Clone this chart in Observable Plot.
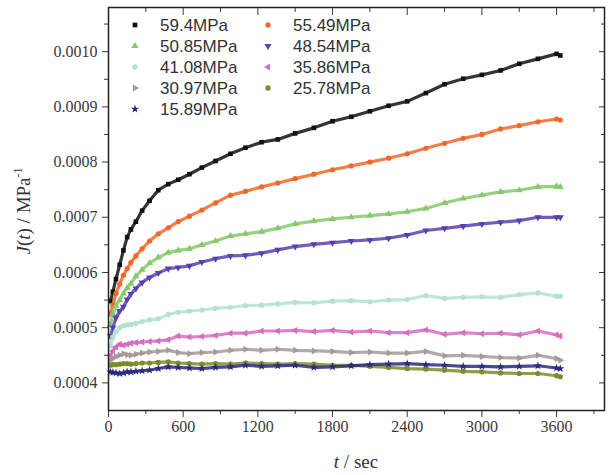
<!DOCTYPE html>
<html>
<head>
<meta charset="utf-8">
<script src="https://cdn.jsdelivr.net/npm/d3@7"></script>
<script src="https://cdn.jsdelivr.net/npm/@observablehq/plot@0.6"></script>
<style>
  body { margin: 0; background: white; }
  #chart { position: relative; width: 610px; height: 475px; }
</style>
</head>
<body>
<div id="chart"></div>
<script>
// time (s)
const times = [15, 35, 60, 90, 120, 150, 180, 220, 270, 330, 400, 480, 560, 650, 750, 860, 980, 1100, 1230, 1360, 1500, 1650, 1800, 1950, 2100, 2250, 2400, 2550, 2700, 2850, 3000, 3150, 3300, 3450, 3600, 3630];

const s59_4 = [0.000548,0.000565,0.000588,0.000614,0.000640,0.000664,0.000678,0.000692,0.000712,0.000730,0.000749,0.000760,0.000768,0.000778,0.000790,0.000802,0.000815,0.000826,0.000836,0.000841,0.000852,0.000862,0.000874,0.000882,0.000892,0.000902,0.000910,0.000925,0.000941,0.000951,0.000958,0.000966,0.000978,0.000987,0.000996,0.000993];
const s55_49 = [0.000525,0.000541,0.000562,0.000579,0.000595,0.000607,0.000618,0.000630,0.000643,0.000657,0.000670,0.000681,0.000692,0.000702,0.000713,0.000726,0.000740,0.000747,0.000755,0.000762,0.000770,0.000778,0.000786,0.000793,0.000800,0.000807,0.000815,0.000825,0.000834,0.000843,0.000850,0.000860,0.000866,0.000873,0.000878,0.000876];
const s50_85 = [0.000505,0.000525,0.000540,0.000550,0.000562,0.000572,0.000580,0.000593,0.000605,0.000617,0.000627,0.000636,0.000640,0.000643,0.000650,0.000657,0.000666,0.000670,0.000674,0.000680,0.000688,0.000693,0.000697,0.000700,0.000703,0.000706,0.000710,0.000716,0.000726,0.000734,0.000740,0.000746,0.000749,0.000755,0.000756,0.000755];
const s48_54 = [0.000485,0.000500,0.000518,0.000530,0.000538,0.000551,0.000561,0.000571,0.000582,0.000591,0.000599,0.000607,0.000609,0.000612,0.000619,0.000625,0.000630,0.000631,0.000635,0.000641,0.000647,0.000651,0.000654,0.000657,0.000659,0.000662,0.000668,0.000676,0.000680,0.000684,0.000688,0.000691,0.000694,0.000700,0.000700,0.000700];
const s41_08 = [0.000467,0.000483,0.000493,0.000500,0.000504,0.000505,0.000506,0.000508,0.000511,0.000514,0.000516,0.000524,0.000528,0.000530,0.000532,0.000535,0.000537,0.000540,0.000541,0.000543,0.000546,0.000545,0.000548,0.000549,0.000547,0.000550,0.000551,0.000558,0.000553,0.000555,0.000556,0.000555,0.000560,0.000563,0.000557,0.000557];
const s35_86 = [0.000450,0.000458,0.000465,0.000470,0.000468,0.000470,0.000472,0.000473,0.000474,0.000475,0.000476,0.000478,0.000485,0.000483,0.000484,0.000486,0.000490,0.000490,0.000494,0.000494,0.000495,0.000493,0.000495,0.000492,0.000494,0.000491,0.000491,0.000496,0.000488,0.000491,0.000489,0.000490,0.000487,0.000494,0.000487,0.000485];
const s30_97 = [0.000441,0.000445,0.000448,0.000450,0.000453,0.000451,0.000450,0.000452,0.000454,0.000456,0.000457,0.000459,0.000455,0.000453,0.000455,0.000456,0.000459,0.000461,0.000459,0.000461,0.000459,0.000458,0.000457,0.000455,0.000456,0.000454,0.000454,0.000457,0.000449,0.000450,0.000448,0.000446,0.000445,0.000450,0.000444,0.000441];
const s25_78 = [0.000432,0.000433,0.000433,0.000434,0.000435,0.000435,0.000434,0.000435,0.000436,0.000436,0.000437,0.000438,0.000436,0.000435,0.000434,0.000435,0.000434,0.000436,0.000435,0.000434,0.000435,0.000434,0.000432,0.000432,0.000430,0.000428,0.000426,0.000425,0.000423,0.000421,0.000420,0.000418,0.000417,0.000417,0.000413,0.000411];
const s15_89 = [0.000420,0.000419,0.000418,0.000417,0.000418,0.000420,0.000420,0.000421,0.000422,0.000423,0.000426,0.000429,0.000428,0.000427,0.000426,0.000428,0.000429,0.000432,0.000430,0.000431,0.000432,0.000428,0.000429,0.000431,0.000433,0.000434,0.000435,0.000433,0.000432,0.000430,0.000430,0.000429,0.000430,0.000431,0.000427,0.000426];

const seriesNames = ["59.4MPa", "55.49MPa", "50.85MPa", "48.54MPa", "41.08MPa", "35.86MPa", "30.97MPa", "25.78MPa", "15.89MPa"];
const seriesValues = [s59_4, s55_49, s50_85, s48_54, s41_08, s35_86, s30_97, s25_78, s15_89];
const seriesColors = ["#111111", "#f0692a", "#86c96b", "#5b3fae", "#b3e2d2", "#d56dc4", "#a69a99", "#7c8c2c", "#2b2a7c"];

const xMajorTicks = [0, 600, 1200, 1800, 2400, 3000, 3600];
const xMinorTicks = [300, 900, 1500, 2100, 2700, 3300, 3900];
const yMajorTicks = [0.0004, 0.0005, 0.0006, 0.0007, 0.0008, 0.0009, 0.0010];
const yMinorTicks = [0.00045, 0.00055, 0.00065, 0.00075, 0.00085, 0.00095, 0.00105];

const serifFont = "'Liberation Serif', 'Times New Roman', Times, serif";
const sansFont = "'Liberation Sans', Arial, Helvetica, sans-serif";

// custom rotated triangle symbol
function triangleRot(deg) {
  return {
    draw(ctx, size) {
      const y = -Math.sqrt(size / (Math.sqrt(3) * 3));
      const pts = [[0, 2 * y], [-Math.sqrt(3) * y, -y], [Math.sqrt(3) * y, -y]];
      const a = deg * Math.PI / 180, c = Math.cos(a), s = Math.sin(a);
      pts.forEach(([px, py], i) => {
        const rx = px * c - py * s, ry = px * s + py * c;
        if (i) ctx.lineTo(rx, ry); else ctx.moveTo(rx, ry);
      });
      ctx.closePath();
    }
  };
}
const seriesSymbols = [d3.symbolSquare, d3.symbolCircle, triangleRot(0), triangleRot(180), d3.symbolCircle, triangleRot(-90), triangleRot(90), d3.symbolCircle, d3.symbolStar];

const marks = [];
seriesValues.forEach((vals, k) => {
  const data = times.map((t, i) => ({t, v: vals[i]}));
  marks.push(Plot.line(data, {x: "t", y: "v", stroke: seriesColors[k], strokeWidth: 3.2, strokeOpacity: 0.85}));
  marks.push(Plot.dot(data, {x: "t", y: "v", fill: seriesColors[k], symbol: seriesSymbols[k], r: 2.6, stroke: "none"}));
});

marks.push(
  Plot.axisX({ticks: xMajorTicks, anchor: "bottom", tickSize: 7, tickPadding: 3, tickFormat: d => String(d), label: null}),
  Plot.axisX({ticks: xMinorTicks, anchor: "bottom", tickSize: 4, tickFormat: () => "", label: null}),
  Plot.axisX({ticks: xMajorTicks, anchor: "top", tickSize: 7, dy: 7, tickFormat: () => "", label: null}),
  Plot.axisX({ticks: xMinorTicks, anchor: "top", tickSize: 4, dy: 4, tickFormat: () => "", label: null}),
  Plot.axisY({ticks: yMajorTicks, anchor: "left", tickSize: 6, tickPadding: 5, tickFormat: d3.format(".4f"), label: null}),
  Plot.axisY({ticks: yMinorTicks, anchor: "left", tickSize: 4, tickFormat: () => "", label: null}),
  Plot.axisY({ticks: yMajorTicks, anchor: "right", tickSize: 6, dx: -6, tickFormat: () => "", label: null}),
  Plot.axisY({ticks: yMinorTicks, anchor: "right", tickSize: 4, dx: -4, tickFormat: () => "", label: null}),
  Plot.frame({stroke: "#222", strokeWidth: 1.5})
);

const chart = Plot.plot({
  width: 610,
  height: 475,
  marginLeft: 108,
  marginRight: 6,
  marginTop: 7,
  marginBottom: 65,
  style: {fontFamily: serifFont, fontSize: "16px", color: "#3a3a3a", background: "white", overflow: "visible"},
  x: {domain: [0, 3985], axis: null},
  y: {domain: [0.00035, 0.00108], axis: null},
  marks
});
document.getElementById("chart").appendChild(chart);

const svg = d3.select(chart);

// axis titles
const yl = svg.append("text")
  .attr("transform", "translate(30,211) rotate(-90)")
  .attr("text-anchor", "middle")
  .style("font-family", serifFont)
  .style("font-size", "19px")
  .attr("fill", "#333");
yl.append("tspan").attr("font-style", "italic").text("J");
yl.append("tspan").text("(");
yl.append("tspan").attr("font-style", "italic").text("t");
yl.append("tspan").text(") / MPa");
yl.append("tspan").style("font-size", "12px").attr("dy", -8).text("-1");

const xl = svg.append("text")
  .attr("x", 356).attr("y", 468)
  .attr("text-anchor", "middle")
  .style("font-family", serifFont)
  .style("font-size", "19px")
  .attr("fill", "#333");
xl.append("tspan").attr("font-style", "italic").text("t");
xl.append("tspan").text(" / sec");

// legend (inside plot, two columns, row-major)
const lg = svg.append("g")
  .attr("text-anchor", "start")
  .style("font-family", sansFont)
  .style("font-size", "17px")
  .attr("fill", "#333");
seriesNames.forEach((name, k) => {
  const col = k % 2, row = Math.floor(k / 2);
  const mx = col ? 268 : 135, tx = col ? 293 : 160, yy = 25 + row * 21;
  lg.append("path")
    .attr("transform", `translate(${mx},${yy})`)
    .attr("d", d3.symbol(seriesSymbols[k], 22)())
    .attr("fill", seriesColors[k]);
  lg.append("text").attr("x", tx).attr("y", yy).attr("dy", "0.35em").attr("text-anchor", "start").text(name);
});
</script>
</body>
</html>
